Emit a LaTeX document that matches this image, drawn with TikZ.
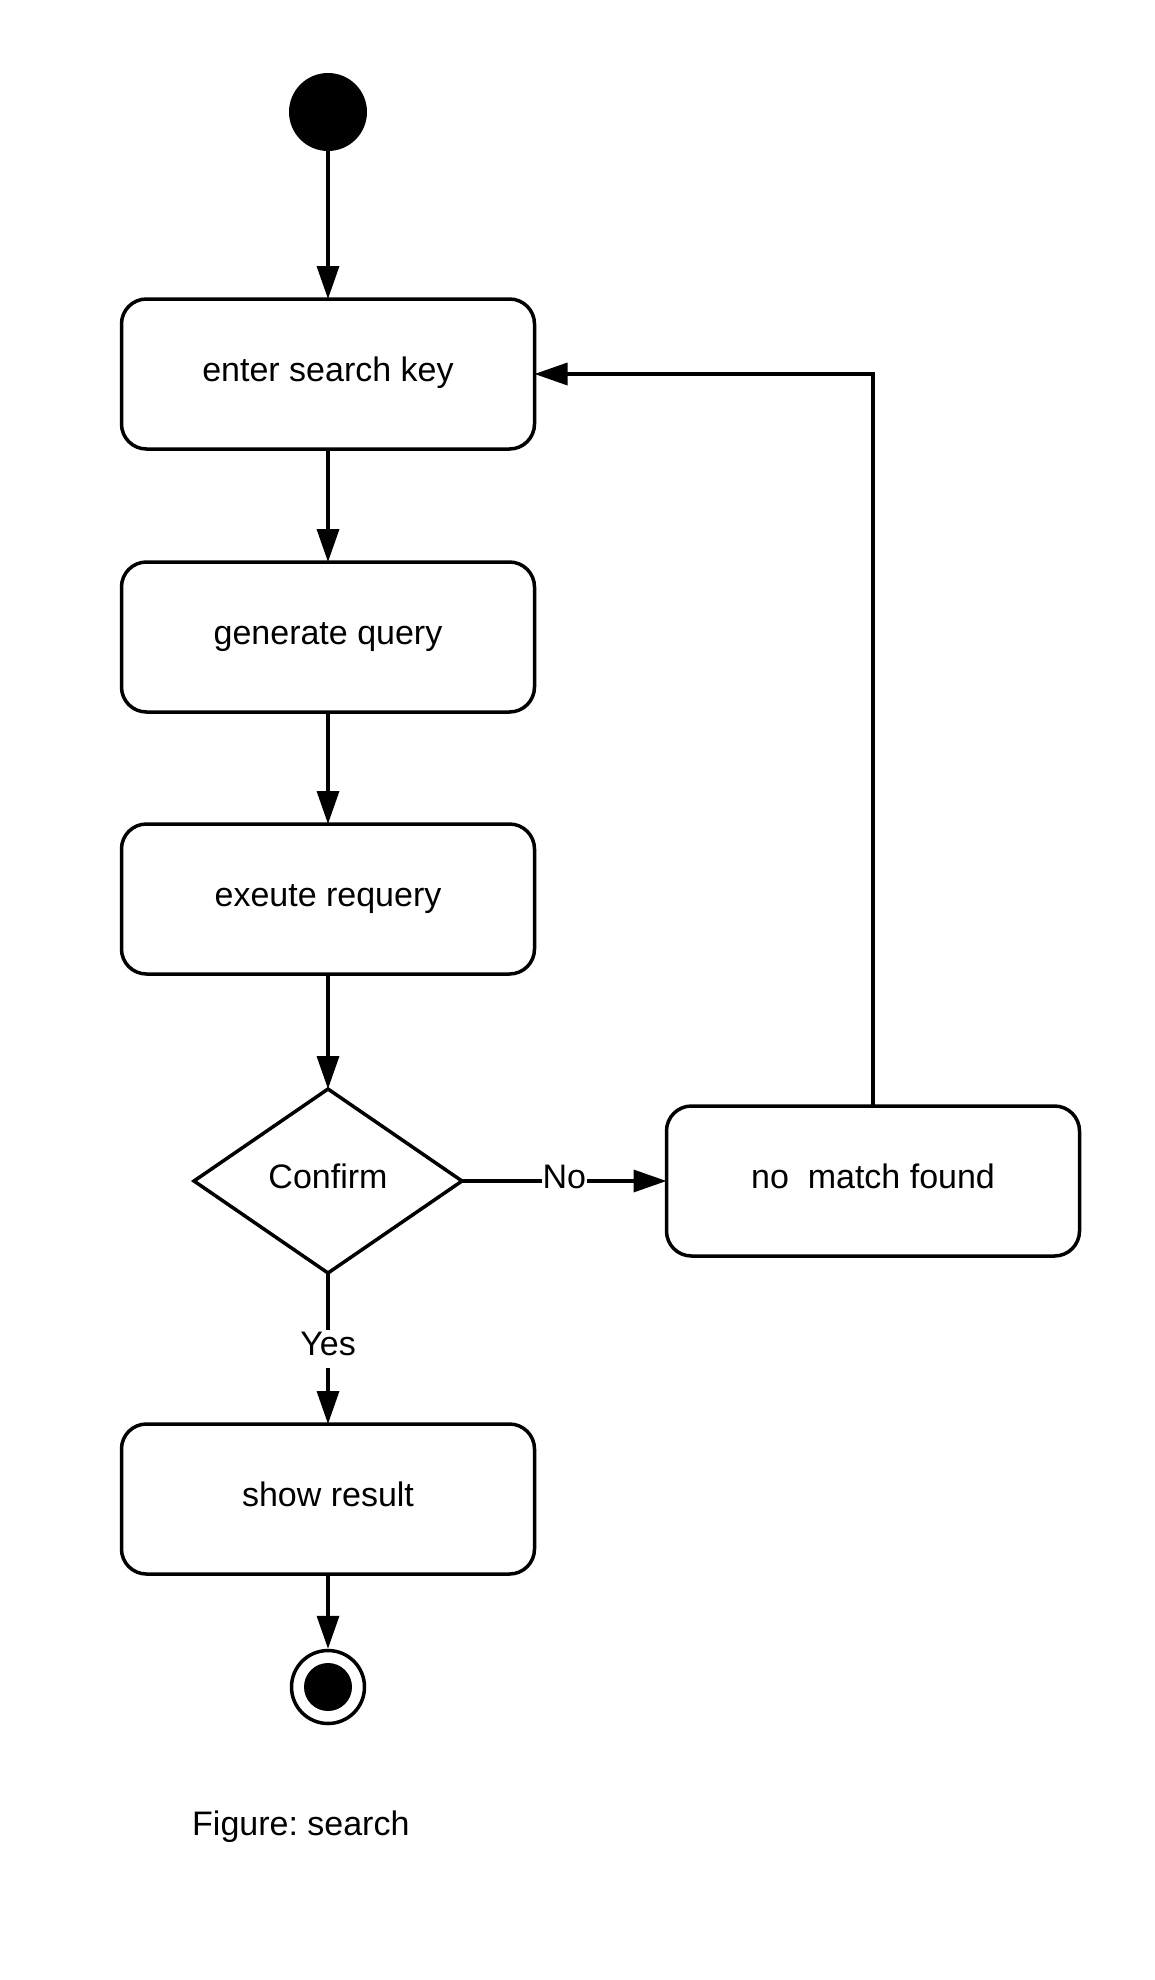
\documentclass[tikz,border=0pt]{standalone}
\usepackage{fontspec}
\setmainfont{Liberation Sans}
\usetikzlibrary{arrows.meta,shapes.geometric}
\begin{document}
\frenchspacing
\begin{tikzpicture}[x=1pt,y=-1pt,
  every node/.style={font=\fontsize{34}{40}\selectfont},
  txt/.style={text height=25pt,text depth=11pt},
  actbox/.style={txt,draw,line width=3.5pt,rounded corners=25pt,minimum width=413pt,minimum height=150pt,inner sep=0pt,outer sep=0pt},
  decide/.style={txt,draw,diamond,line width=3.5pt,minimum width=268pt,minimum height=184pt,inner sep=0pt,outer sep=0pt,aspect=1.46},
  flow/.style={line width=3.5pt,-{Triangle[length=33pt,width=22pt]}},
  lbl/.style={txt,fill=white,inner sep=1pt}
]
\useasboundingbox (0,0) rectangle (1155,1980);
\node[circle,fill=black,minimum size=78pt,inner sep=0pt,outer sep=0pt] (start) at (328,112) {};
\node[actbox] (b1) at (328,374) {enter search key};
\node[actbox] (b2) at (328,637) {generate query};
\node[actbox] (b3) at (328,899) {exeute requery};
\node[decide] (dec) at (328,1181) {Confirm};
\node[actbox] (nm) at (873,1181) {no\ \ match found};
\node[actbox] (sr) at (328,1499) {show result};
\node[circle,draw,line width=3.5pt,minimum size=73pt,inner sep=0pt,outer sep=1.75pt] (end) at (328,1687) {};
\fill (end.center) circle (24pt);
\node[anchor=base west,inner sep=0pt] (cap) at (192,1835) {Figure: search};

\draw[flow] (start) -- (b1);
\draw[flow] (b1) -- (b2);
\draw[flow] (b2) -- (b3);
\draw[flow] (b3) -- (dec.north);
\draw[flow] (dec.east) -- node[lbl] (no) {No} (nm.west);
\draw[flow] (dec.south) -- node[lbl] (yes) {Yes} (sr.north);
\draw[flow] (sr) -- (end);
\draw[flow] (nm.north) |- (b1.east);
\end{tikzpicture}
\end{document}
